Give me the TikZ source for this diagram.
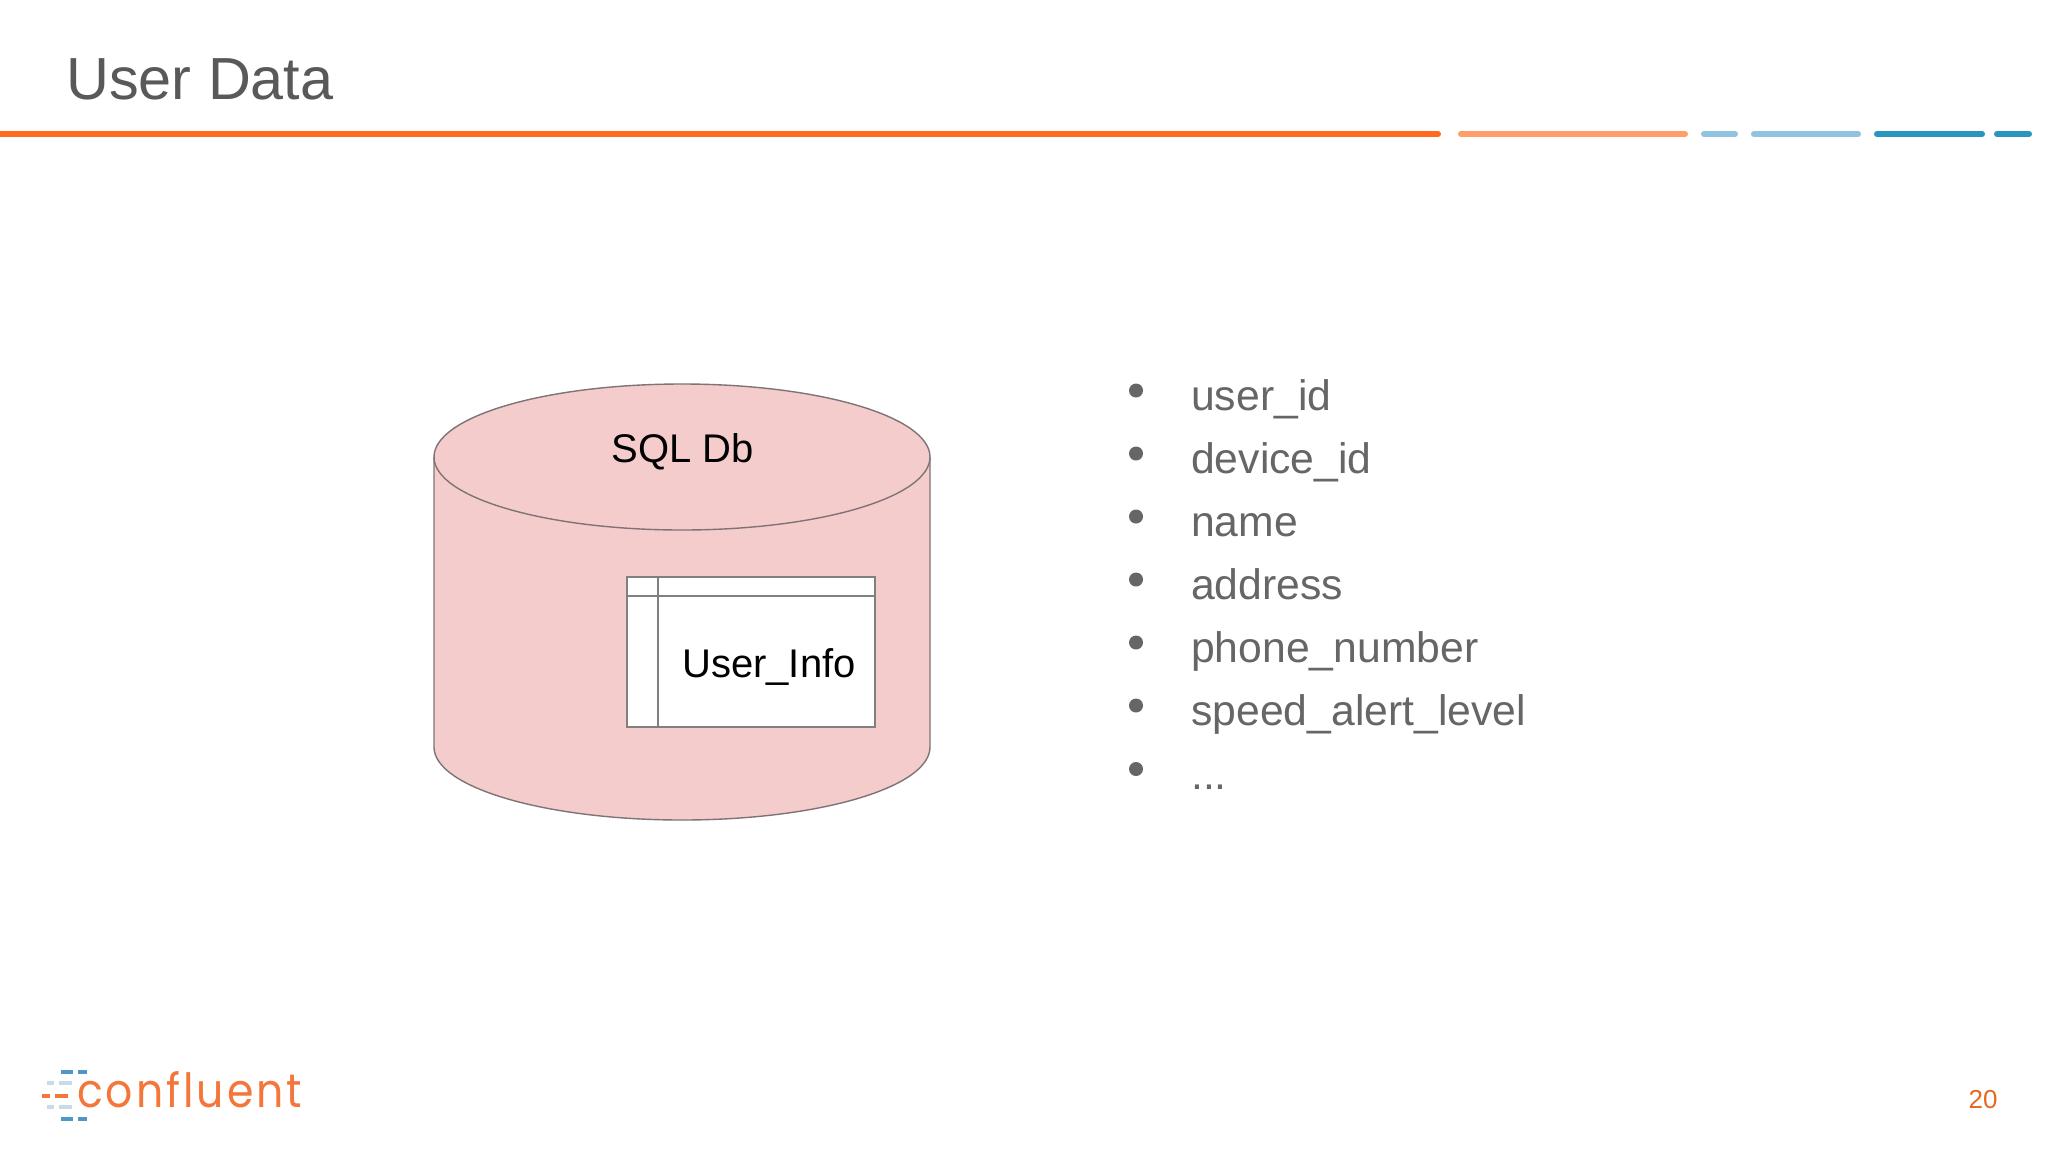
\documentclass[tikz,border=0pt]{standalone}
\usepackage{fontspec}
\setmainfont{Liberation Sans}
\newfontfamily\logofont[LetterSpace=7]{Poppins}
\definecolor{titlegrey}{HTML}{595959}
\definecolor{bodygrey}{HTML}{666666}
\definecolor{edgegrey}{HTML}{7F7376}
\definecolor{dbfill}{HTML}{F4CCCC}
\definecolor{lineorange}{HTML}{FF6A1F}
\definecolor{linepeach}{HTML}{FF9E68}
\definecolor{linelight}{HTML}{8FC3E0}
\definecolor{linedark}{HTML}{2A95BF}
\definecolor{logoorange}{HTML}{F4763A}
\definecolor{logoblue}{HTML}{4E97C6}
\definecolor{logolight}{HTML}{C6DAEA}
\definecolor{pagenum}{HTML}{E8681F}
\tikzset{
  seg/.style={line width=6pt,line cap=round},
  dbedge/.style={draw=edgegrey,line width=1.4pt},
  tabedge/.style={draw=black!50,line width=1.4pt},
  bullettext/.style={anchor=base west,inner sep=0pt,text=bodygrey,font=\fontsize{42.7}{50}\selectfont},
  bulletdot/.style={circle,fill=bodygrey,inner sep=0pt,minimum size=14pt},
  dbtext/.style={inner sep=0pt,text=black,font=\fontsize{40}{48}\selectfont},
  logodash/.style={line width=4pt}
}
\begin{document}
\begin{tikzpicture}[x=1pt,y=-1pt]
\useasboundingbox[fill=white] (0,0) rectangle (2048,1152);
% title
\node[anchor=base west,inner sep=0pt,text=titlegrey,font=\fontsize{59.4}{70}\selectfont] (title) at (66,99) {User Data};
% rule
\draw[seg,lineorange] (-4,134) -- (1438,134);
\draw[seg,linepeach] (1461,134) -- (1685,134);
\draw[seg,linelight] (1704,134) -- (1735,134);
\draw[seg,linelight] (1754,134) -- (1858,134);
\draw[seg,linedark] (1877,134) -- (1982,134);
\draw[seg,linedark] (1997,134) -- (2029,134);
% cylinder
\path[fill=dbfill,dbedge] (434,457) -- (434,747) arc[start angle=180,end angle=360,x radius=248pt,y radius=73pt] -- (930,457) arc[start angle=0,end angle=180,x radius=248pt,y radius=73pt] -- cycle;
\draw[dbedge] (434,457) arc[start angle=180,end angle=360,x radius=248pt,y radius=73pt];
\node[dbtext] (sqldb) at (683,452) {SQL Db};
% table
\path[fill=white,tabedge] (627,577) rectangle (875,727);
\draw[tabedge] (658,577) -- (658,727);
\draw[tabedge] (627,596) -- (875,596);
\node[dbtext,anchor=base west] (userinfo) at (682,677) {User\_Info};
% bullets
\foreach \n/\itemtxt [count=\i from 0] in {a/user\_id,b/device\_id,c/name,d/address,e/phone\_number,f/speed\_alert\_level}{
  \node[bulletdot] (dot\n) at (1136,390.5+63*\i) {};
  \node[bullettext] (item\n) at (1191,410.5+63*\i) {\itemtxt};
}
\node[bulletdot] (dotg) at (1136,769) {};
\node[bullettext] (itemg) at (1191,789) {...};
% logo
\foreach \xa/\xb/\yy/\cc in {61/73/1072/logoblue,78/87/1072/logoblue,47/54/1083/logolight,59/72/1083/logolight,42/50/1096/logoorange,55/68/1096/logoorange,47/54/1107/logolight,59/72/1107/logolight,61/73/1119/logoblue,78/87/1119/logoblue}{
  \draw[logodash,\cc] (\xa,\yy) -- (\xb,\yy);
}
\node[anchor=base west,inner sep=0pt,text=logoorange] (logo) at (77,1107) {\resizebox{225pt}{36pt}{\logofont\fontsize{40}{50}\selectfont confluent}};
% page number
\node[inner sep=0pt,anchor=base,text=pagenum,font=\fontsize{26}{30}\selectfont] (page) at (1983,1108) {20};
\end{tikzpicture}
\end{document}
